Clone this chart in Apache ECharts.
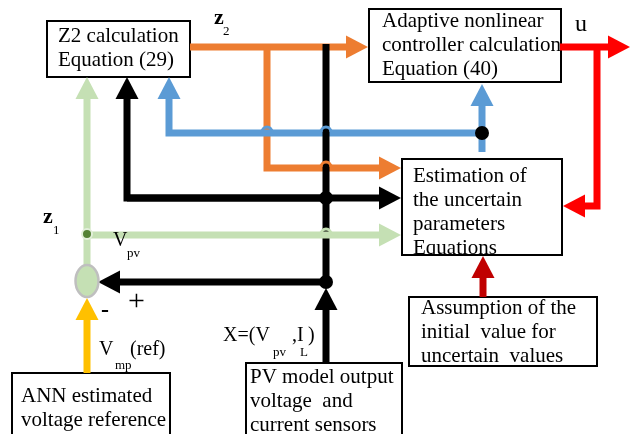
<!DOCTYPE html>
<html>
<head>
<meta charset="utf-8">
<script src="https://cdn.jsdelivr.net/npm/echarts@6/dist/echarts.min.js"></script>
<style>
html, body { margin: 0; padding: 0; background: #fff; }
#diagram { width: 630px; height: 434px; }
</style>
</head>
<body>
<div id="diagram"></div>
<script>
// blocks of the diagram, in canvas pixels: [left, top, width, height]
const blockRects = [
  [47, 21, 143, 56],
  [369, 9, 192, 73],
  [402, 159, 160, 96],
  [409, 297, 188, 69],
  [12, 373, 158, 80],
  [246, 363, 156, 90],
];
const blockLines = [
  ['Z2 calculation', 'Equation (29)'],
  ['Adaptive nonlinear', 'controller calculation', 'Equation (40)'],
  ['Estimation of', 'the uncertain', 'parameters', 'Equations'],
  ['Assumption of the', 'initial  value for', 'uncertain  values'],
  ['ANN estimated', 'voltage reference'],
  ['PV model output', 'voltage  and', 'current sensors'],
];
// left x and middle y of the first text line
const blockTextStart = [[58, 36], [382, 21], [413, 176], [421, 308], [21, 396], [250, 377]];

// signal paths, last point is the arrow tip
const arrowKinds = ['orange', 'orange', 'blue', 'blue', 'black', 'black', 'black', 'black',
  'green', 'green', 'yellow', 'red', 'red', 'darkred'];
const arrowPaths = [
  [[190, 47], [368, 47]],
  [[267, 47], [267, 168], [401, 168]],
  [[482, 133], [169, 133], [169, 77]],
  [[482, 152], [482, 84]],
  [[326, 198], [127, 198], [127, 77]],
  [[127, 198], [401, 198]],
  [[326, 44], [326, 282], [98, 282]],
  [[326, 362], [326, 288]],
  [[87, 266], [87, 77]],
  [[87, 235], [401, 235]],
  [[87, 373], [87, 298]],
  [[560, 47], [630, 47]],
  [[597, 47], [597, 206], [563, 206]],
  [[483, 297], [483, 256]],
];
// line hops where a wire jumps over another one
const hopKinds = ['blue', 'orange', 'green', 'blue'];
const hopPoints = [[326, 133], [326, 168], [326, 235], [267, 133]];
// junction dots
const dotKinds = ['black', 'black', 'black', 'node'];
const dotPoints = [[326, 198], [326, 282], [482, 133], [87, 234]];
// summing point
const sumPoint = [87, 281];

// free labels: text, left x, middle y, style
const labelTexts = ['z', '2', 'u', 'z', '1', 'V', 'pv', '+', '-', 'V', 'mp', '(ref)', 'X=(V', 'pv', ',I', 'L', ')'];
const labelPos = [[214, 18], [223, 32], [575, 25], [43, 217], [53, 231], [113, 241], [127, 254], [128, 302],
  [101, 311], [99, 350], [115, 366], [130, 350], [223, 336], [273, 353], [292, 336], [300, 353], [308, 336]];
const labelKinds = ['zvar', 'sub', 'u', 'zvar', 'sub', 'main', 'sub', 'plus', 'minus', 'main', 'sub', 'main',
  'main', 'sub', 'main', 'sub', 'main'];

const COLORS = {
  orange: '#ed7d31', blue: '#5b9bd5', black: '#000000', green: '#c5e0b4',
  yellow: '#ffc000', red: '#ff0000', darkred: '#c00000', node: '#548235',
};
const FONTS = {
  box: 'normal 21px "Liberation Serif"',
  zvar: 'bold 22px "Liberation Serif"',
  sub: 'normal 13px "Liberation Serif"',
  u: 'normal 24px "Liberation Serif"',
  main: 'normal 20px "Liberation Serif"',
  plus: 'normal 30px "Liberation Serif"',
  minus: 'bold 24px "Liberation Serif"',
};
const WIRE = 7;
const HEAD_LEN = 22;
const HEAD_HALF = 11.5;

const chart = echarts.init(document.getElementById('diagram'), null, {renderer: 'canvas'});

const renderBlock = (params, api) => {
  const i = params.dataIndex;
  const r = blockRects[i];
  const p0 = api.coord([r[0], r[1]]);
  const p1 = api.coord([r[0] + r[2], r[1] + r[3]]);
  const start = blockTextStart[i];
  const texts = blockLines[i].map((line, k) => {
    const p = api.coord([start[0], start[1] + k * 24]);
    return {
      type: 'text',
      x: p[0],
      y: p[1],
      style: {text: line, font: FONTS.box, fill: '#000', textAlign: 'left', textVerticalAlign: 'middle'},
    };
  });
  return {
    type: 'group',
    children: [
      {type: 'rect', shape: {x: p0[0], y: p0[1], width: p1[0] - p0[0], height: p1[1] - p0[1]},
        style: {fill: '#fff', stroke: null}},
      {
        // text is cut at the bottom border, like in the original figure
        type: 'group',
        clipPath: {type: 'rect', shape: {x: p0[0], y: p0[1], width: 400, height: p1[1] - p0[1]}},
        children: texts,
      },
      {type: 'rect', shape: {x: p0[0], y: p0[1], width: p1[0] - p0[0], height: p1[1] - p0[1]},
        style: {fill: null, stroke: '#000', lineWidth: 2}},
    ],
  };
};

const renderArrow = (params, api) => {
  const i = params.dataIndex;
  const pts = arrowPaths[i].map(p => api.coord(p));
  const color = COLORS[arrowKinds[i]];
  const tip = pts[pts.length - 1];
  const prev = pts[pts.length - 2];
  const dx = tip[0] - prev[0];
  const dy = tip[1] - prev[1];
  const len = Math.hypot(dx, dy);
  const ux = dx / len;
  const uy = dy / len;
  const base = [tip[0] - ux * HEAD_LEN, tip[1] - uy * HEAD_LEN];
  const shaftEnd = [base[0] + ux * 2, base[1] + uy * 2];
  return {
    type: 'group',
    children: [{
      type: 'polyline',
      shape: {points: pts.slice(0, -1).concat([shaftEnd])},
      style: {stroke: color, lineWidth: WIRE, fill: null, lineJoin: 'miter', lineCap: 'butt'},
    }, {
      type: 'polygon',
      shape: {points: [tip, [base[0] - uy * HEAD_HALF, base[1] + ux * HEAD_HALF], [base[0] + uy * HEAD_HALF, base[1] - ux * HEAD_HALF]]},
      style: {fill: color},
    }],
  };
};

const renderHop = (params, api) => {
  const i = params.dataIndex;
  const p = api.coord(hopPoints[i]);
  return {
    type: 'arc',
    shape: {cx: p[0], cy: p[1] - 1, r: 5, startAngle: Math.PI, endAngle: Math.PI * 2},
    style: {stroke: COLORS[hopKinds[i]], lineWidth: 3, fill: null},
  };
};

const renderDot = (params, api) => {
  const i = params.dataIndex;
  const p = api.coord(dotPoints[i]);
  const isNode = dotKinds[i] === 'node';
  return {
    type: 'circle',
    shape: {cx: p[0], cy: p[1], r: isNode ? 5 : 7},
    style: {fill: COLORS[dotKinds[i]], stroke: isNode ? '#e2efda' : null, lineWidth: 2},
  };
};

const renderSum = (params, api) => {
  const p = api.coord(sumPoint);
  return {
    type: 'ellipse',
    shape: {cx: p[0], cy: p[1], rx: 11.5, ry: 16},
    style: {fill: COLORS.green, stroke: '#bfbfbf', lineWidth: 2.5},
  };
};

const renderLabel = (params, api) => {
  const i = params.dataIndex;
  const p = api.coord(labelPos[i]);
  return {
    type: 'text',
    x: p[0],
    y: p[1],
    style: {text: labelTexts[i], font: FONTS[labelKinds[i]], fill: '#000', textAlign: 'left', textVerticalAlign: 'middle'},
  };
};

const idx = arr => arr.map((_, i) => [i]);

const option = {
  backgroundColor: '#fff',
  animation: false,
  grid: {left: 0, right: 0, top: 0, bottom: 0},
  xAxis: {type: 'value', min: 0, max: 630, show: false},
  yAxis: {type: 'value', min: 0, max: 434, inverse: true, show: false},
  series: [
    {type: 'custom', name: 'blocks', renderItem: renderBlock, data: idx(blockRects), z: 1, silent: true},
    {type: 'custom', name: 'arrows', renderItem: renderArrow, data: idx(arrowPaths), z: 2, silent: true},
    {type: 'custom', name: 'hops', renderItem: renderHop, data: idx(hopPoints), z: 3, silent: true},
    {type: 'custom', name: 'sum', renderItem: renderSum, data: [[0]], z: 3, silent: true},
    {type: 'custom', name: 'dots', renderItem: renderDot, data: idx(dotPoints), z: 4, silent: true},
    {type: 'custom', name: 'labels', renderItem: renderLabel, data: idx(labelTexts), z: 5, silent: true},
  ],
};
chart.setOption(option);
</script>
</body>
</html>
